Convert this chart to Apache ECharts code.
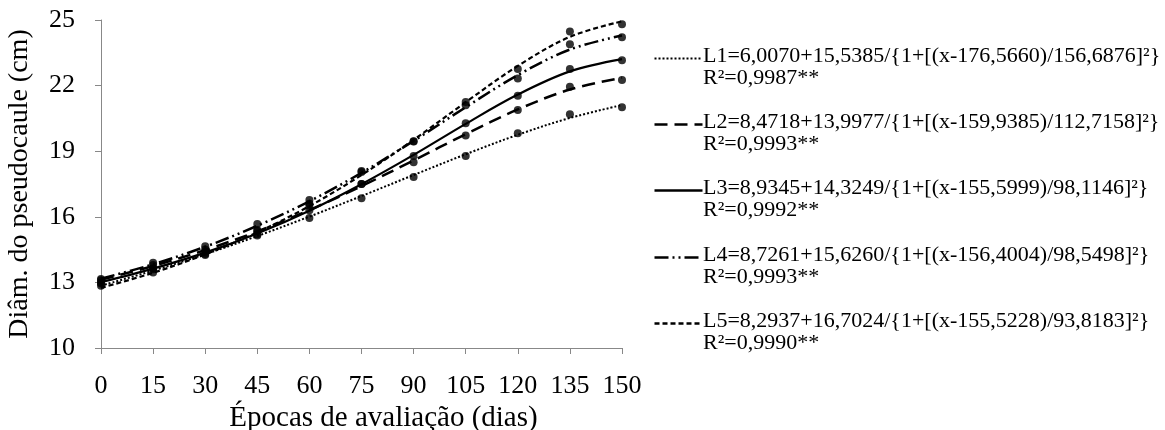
<!DOCTYPE html>
<html>
<head>
<meta charset="utf-8">
<script src="https://cdn.jsdelivr.net/npm/echarts@6/dist/echarts.min.js"></script>
<style>
html,body{margin:0;padding:0;background:#fff;}
#chart{width:1165px;height:430px;}
</style>
</head>
<body>
<div id="chart"></div>
<script>
// Evaluation times (days)
var days = [0, 15, 30, 45, 60, 75, 90, 105, 120, 135, 150];
var xTicks = [0, 15, 30, 45, 60, 75, 90, 105, 120, 135, 150];
var yTicks = [10, 13, 16, 19, 22, 25];

// Observed values (points)
var obsL1 = [12.85, 13.45, 14.25, 15.15, 15.95, 16.85, 17.82, 18.78, 19.82, 20.69, 21.01];
var obsL2 = [13.10, 13.80, 14.50, 15.40, 16.50, 17.50, 18.50, 19.72, 20.88, 21.95, 22.26];
var obsL3 = [13.00, 13.65, 14.30, 15.20, 16.30, 17.50, 18.78, 20.28, 21.54, 22.76, 23.16];
var obsL4 = [13.15, 13.90, 14.65, 15.67, 16.77, 18.05, 19.44, 21.10, 22.33, 23.89, 24.21];
var obsL5 = [12.95, 13.60, 14.40, 15.35, 16.60, 18.10, 19.46, 21.25, 22.76, 24.47, 24.80];

// Fitted curve values read at each time
var fitL1 = [12.85, 13.54, 14.29, 15.12, 16.01, 16.95, 17.91, 18.86, 19.75, 20.52, 21.11];
var fitL2 = [13.12, 13.75, 14.48, 15.33, 16.31, 17.40, 18.58, 19.78, 20.91, 21.82, 22.36];
var fitL3 = [13.01, 13.63, 14.36, 15.24, 16.28, 17.49, 18.83, 20.25, 21.59, 22.65, 23.21];
var fitL4 = [13.17, 13.83, 14.63, 15.59, 16.71, 18.01, 19.47, 21.01, 22.48, 23.65, 24.29];
var fitL5 = [12.75, 13.44, 14.28, 15.29, 16.49, 17.91, 19.52, 21.24, 22.90, 24.23, 24.94];

var legendLabels = [
  'L1=6,0070+15,5385/{1+[(x-176,5660)/156,6876]²}',
  'L2=8,4718+13,9977/{1+[(x-159,9385)/112,7158]²}',
  'L3=8,9345+14,3249/{1+[(x-155,5999)/98,1146]²}',
  'L4=8,7261+15,6260/{1+[(x-156,4004)/98,5498]²}',
  'L5=8,2937+16,7024/{1+[(x-155,5228)/93,8183]²}'
];
var r2Labels = ['R²=0,9987**', 'R²=0,9993**', 'R²=0,9992**', 'R²=0,9993**', 'R²=0,9990**'];

var dashes = ['dotted', [13, 7], 'solid', [14, 4, 2, 4, 2, 4], [5, 3]];
var widths = [2, 2.5, 2.2, 2.5, 2.2];
var fits = [fitL1, fitL2, fitL3, fitL4, fitL5];
var obs = [obsL1, obsL2, obsL3, obsL4, obsL5];

function pairs(arr) { return days.map(function (d, i) { return [d, arr[i]]; }); }

var series = [];
fits.forEach(function (f, i) {
  series.push({
    type: 'line', name: 'L' + (i + 1), data: pairs(f), smooth: 0.35, symbol: 'none',
    lineStyle: { color: '#000', width: widths[i], type: dashes[i] }, z: 2, silent: true
  });
});
obs.forEach(function (o, i) {
  series.push({
    type: 'scatter', name: 'obs' + (i + 1), data: pairs(o), symbol: 'circle', symbolSize: 8,
    itemStyle: { color: '#000' }, z: 3, silent: true
  });
});

var serif = 'Liberation Serif, Times New Roman, serif';
var graphics = [];
var legendY = [57, 123, 189, 256, 322];
legendLabels.forEach(function (t, i) {
  var d = dashes[i];
  var dash = d === 'solid' ? null : (d === 'dotted' ? [2, 2] : d);
  graphics.push({
    type: 'line', left: 652, top: legendY[i] - 1,
    shape: { x1: 0, y1: 0, x2: 48, y2: 0 },
    style: { stroke: '#000', lineWidth: i === 0 ? 2 : 2.5, lineDash: dash }
  });
  graphics.push({
    type: 'text', left: 703, top: legendY[i] - 12,
    style: { text: t, font: '22px ' + serif, fill: '#000' }
  });
  graphics.push({
    type: 'text', left: 703, top: legendY[i] + 10,
    style: { text: r2Labels[i], font: '22px ' + serif, fill: '#000' }
  });
});

var chart = echarts.init(document.getElementById('chart'), null, { renderer: 'canvas' });
chart.setOption({
  backgroundColor: '#fff',
  animation: false,
  grid: { left: 101, right: 543, top: 20, bottom: 82, containLabel: false, outerBoundsMode: 'none' },
  xAxis: {
    type: 'value', min: 0, max: 150, interval: 15,
    name: 'Épocas de avaliação (dias)', nameLocation: 'middle', nameGap: 51,
    nameTextStyle: { fontFamily: serif, fontSize: 29, color: '#000', padding: [0, 0, 0, 44] },
    axisLine: { show: true, lineStyle: { color: '#888', width: 1 } },
    axisTick: { show: true, inside: false, length: 6, lineStyle: { color: '#888' } },
    axisLabel: {
      fontFamily: serif, fontSize: 26, color: '#000', margin: 25,
      formatter: function (v) { return xTicks.indexOf(v) >= 0 ? String(v) : ''; }
    },
    splitLine: { show: false }
  },
  yAxis: {
    type: 'value', min: 10, max: 25, interval: 3,
    name: 'Diâm. do pseudocaule (cm)', nameLocation: 'middle', nameGap: 67,
    nameTextStyle: { fontFamily: serif, fontSize: 28, color: '#000' },
    axisLine: { show: true, lineStyle: { color: '#888', width: 1 } },
    axisTick: { show: true, inside: false, length: 6, lineStyle: { color: '#888' } },
    axisLabel: {
      fontFamily: serif, fontSize: 26, color: '#000', margin: 26,
      formatter: function (v) { return yTicks.indexOf(v) >= 0 ? String(v) : ''; }
    },
    splitLine: { show: false }
  },
  graphic: graphics,
  series: series
});
</script>
</body>
</html>
